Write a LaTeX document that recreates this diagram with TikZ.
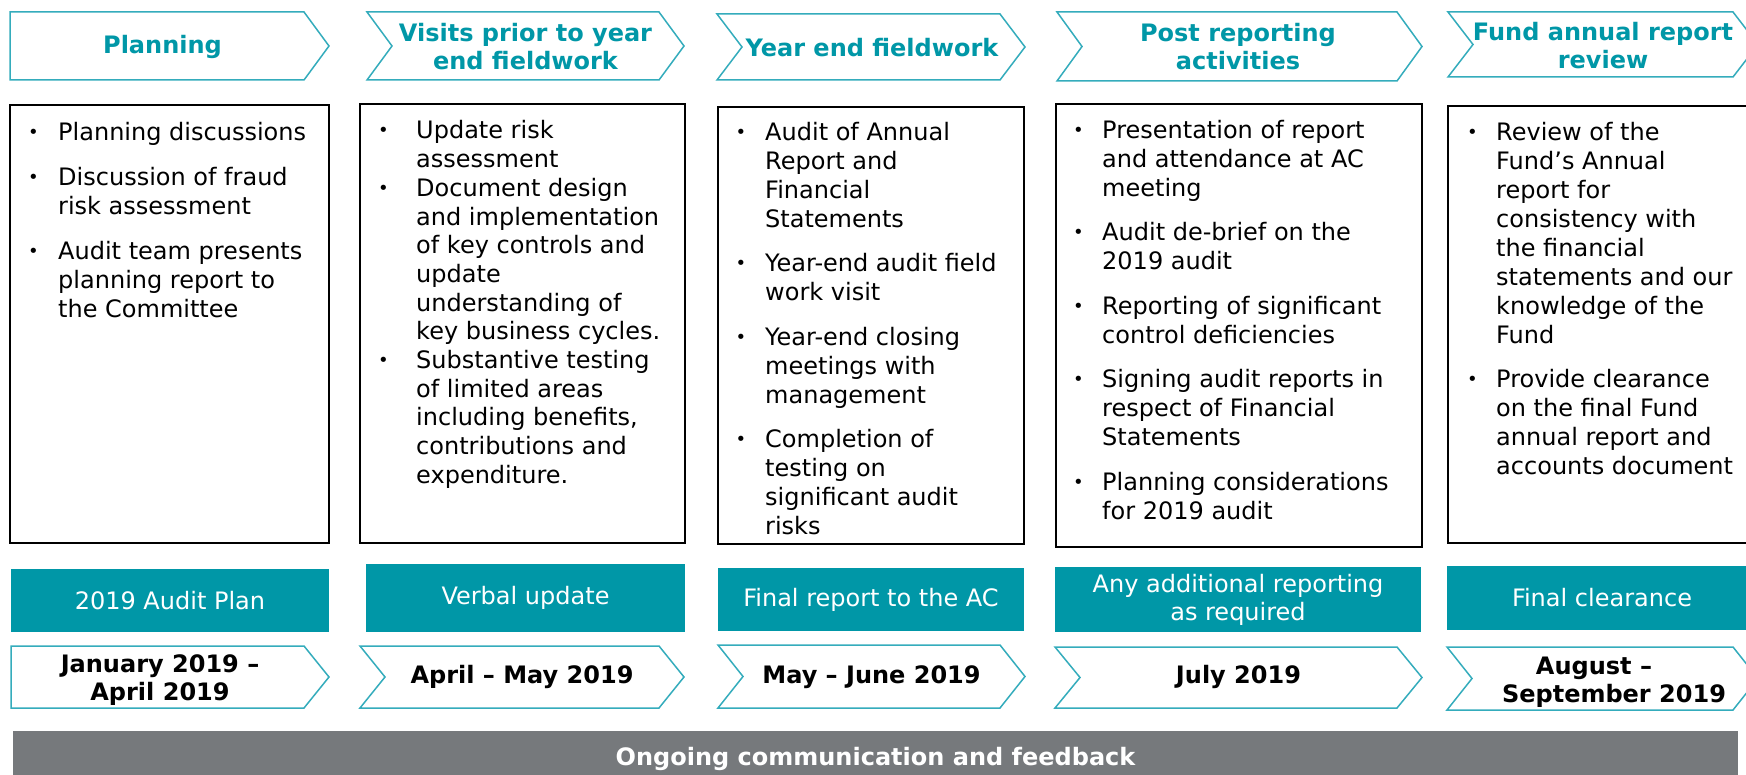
\documentclass[tikz,border=0pt]{standalone}
\usepackage{fontspec}
\setmainfont{DejaVu Sans}
\usepackage{tikz}

\definecolor{audteal}{RGB}{0,151,167}
\definecolor{audline}{RGB}{52,172,188}
\definecolor{audgrey}{RGB}{118,121,124}

\tikzset{
  chevline/.style={draw=audline, line width=1.5pt, fill=white},
  headtext/.style={font=\fontsize{24}{28}\selectfont\bfseries, text=audteal, align=center, inner sep=0pt},
  datetext/.style={font=\fontsize{24}{28}\selectfont\bfseries, align=center, inner sep=0pt},
  panel/.style={draw=black, line width=1.8pt},
  bodytext/.style={anchor=north west, inner sep=0pt, font=\fontsize{24}{29}\selectfont},
  tealbox/.style={fill=audteal, text=white, font=\fontsize{24}{28}\selectfont, align=center, inner sep=0pt},
  barbox/.style={fill=audgrey, text=white, font=\fontsize{24}{28}\selectfont\bfseries, inner sep=0pt}
}

% chevron: left, tip, top, bottom, notch (0/1)
\newcommand\chevron[5]{%
  \draw[chevline] (#1,#3) -- ({#2-25},#3) -- (#2,{(#3+#4)/2}) -- ({#2-25},#4)
    -- (#1,#4) -- ({#1+25*#5},{(#3+#4)/2}) -- cycle;}

% small bullet and bullet list: bullet column width, rows
\newcommand\bdot{\hspace*{2pt}\raisebox{2pt}{\scalebox{0.75}{\textbullet}}}
\newcommand\bullist[2]{\begin{tabular}{@{}p{#1}@{}l@{}}#2\end{tabular}}

\begin{document}
\begin{tikzpicture}[x=1pt,y=-1pt]
\useasboundingbox (0,0) rectangle (1746,775);
\clip (0,0) rectangle (1746,775);

% phase headers
\chevron{10}{329}{12}{80}{0}
\chevron{367}{684}{12}{80}{1}
\chevron{717}{1025}{14}{80}{1}
\chevron{1057}{1422}{12}{81}{1}
\chevron{1448}{1758}{12}{77}{1}
\node[headtext] (hdA) at (162.5,46.5) {Planning};
\node[headtext] (hdB) at (525.5,46.5) {Visits prior to year\\end fieldwork};
\node[headtext] (hdC) at (872,47.5) {Year end fieldwork};
\node[headtext] (hdD) at (1238,46.5) {Post reporting\\activities};
\node[headtext] (hdE) at (1603,45.5) {Fund annual report\\review};

% activity panels
\draw[panel] (10,105) rectangle (329,543);
\draw[panel] (360,104) rectangle (685,543);
\draw[panel] (718,107) rectangle (1024,544);
\draw[panel] (1056,104) rectangle (1422,547);
\draw[panel] (1448,106) rectangle (1760,543);

\node[bodytext] (bxA) at (26,119.7) {\bullist{32pt}{%
  \bdot & Planning discussions\\[16pt]
  \bdot & Discussion of fraud\\ & risk assessment\\[16pt]
  \bdot & Audit team presents\\ & planning report to\\ & the Committee}};

\node[bodytext, font=\fontsize{24}{28.7}\selectfont] (bxB) at (376,118.7) {\bullist{40pt}{%
  \bdot & Update risk\\ & assessment\\
  \bdot & Document design\\ & and implementation\\ & of key controls and\\
    & update\\ & understanding of\\ & key business cycles.\\
  \bdot & Substantive testing\\ & of limited areas\\ & including benefits,\\
    & contributions and\\ & expenditure.}};

\node[bodytext] (bxC) at (733.5,119.7) {\bullist{31.5pt}{%
  \bdot & Audit of Annual\\ & Report and\\ & Financial\\ & Statements\\[15.5pt]
  \bdot & Year-end audit field\\ & work visit\\[15.5pt]
  \bdot & Year-end closing\\ & meetings with\\ & management\\[15.5pt]
  \bdot & Completion of\\ & testing on\\ & significant audit\\ & risks}};

\node[bodytext] (bxD) at (1071,117.6) {\bullist{31pt}{%
  \bdot & Presentation of report\\ & and attendance at AC\\ & meeting\\[15.5pt]
  \bdot & Audit de-brief on the\\ & 2019 audit\\[15.5pt]
  \bdot & Reporting of significant\\ & control deficiencies\\[15.5pt]
  \bdot & Signing audit reports in\\ & respect of Financial\\ & Statements\\[15.5pt]
  \bdot & Planning considerations\\ & for 2019 audit}};

\node[bodytext] (bxE) at (1465,119.7) {\bullist{31pt}{%
  \bdot & Review of the\\ & Fund’s Annual\\ & report for\\ & consistency with\\
    & the financial\\ & statements and our\\ & knowledge of the\\ & Fund\\[15.5pt]
  \bdot & Provide clearance\\ & on the final Fund\\ & annual report and\\ & accounts document}};

% reporting outputs
\node[tealbox, minimum width=318.5pt, minimum height=63pt] (rpA) at (170,600.5) {2019 Audit Plan};
\node[tealbox, minimum width=319pt, minimum height=68pt] (rpB) at (525.5,598) {Verbal update};
\node[tealbox, minimum width=306pt, minimum height=63pt] (rpC) at (871,599.5) {Final report to the AC};
\node[tealbox, minimum width=366pt, minimum height=65pt] (rpD) at (1238,599.5) {Any additional reporting\\as required};
\node[tealbox, minimum width=310pt, minimum height=64pt] (rpE) at (1602,598) {Final clearance};

% timing
\chevron{11}{329}{646}{708}{0}
\chevron{360}{684}{646}{708}{1}
\chevron{718}{1025}{645}{708}{1}
\chevron{1055}{1422}{647}{708}{1}
\chevron{1447}{1758}{647}{710}{1}
\node[datetext] (dtA) at (160,680) {January 2019 –\\April 2019};
\node[datetext] (dtB) at (522,677) {April – May 2019};
\node[datetext] (dtC) at (871.5,677) {May – June 2019};
\node[datetext] (dtD) at (1238.5,677) {July 2019};
\node[datetext] (dtE) at (1614,682) {August –\hspace*{40pt}\\September 2019};

% ongoing communication
\node[barbox, minimum width=1725pt, minimum height=56pt] (bar) at (875.5,759) {Ongoing communication and feedback};
\end{tikzpicture}
\end{document}
